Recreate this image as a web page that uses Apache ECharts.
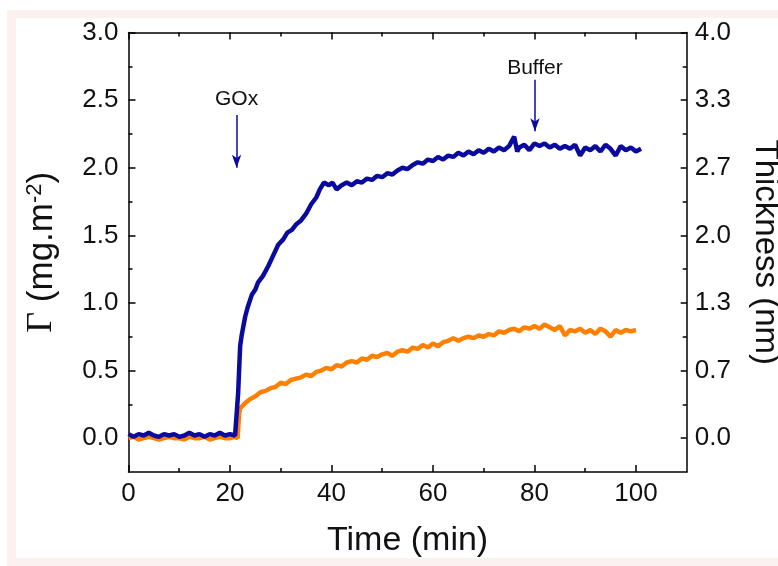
<!DOCTYPE html>
<html>
<head>
<meta charset="utf-8">
<script src="https://cdn.jsdelivr.net/npm/echarts@6/dist/echarts.min.js"></script>
<style>
html,body{margin:0;padding:0;background:#fff;overflow:hidden;}
#chart{width:778px;height:566px;}
</style>
</head>
<body>
<div id="chart"></div>
<script>
// ---- data ----
const blueTime = [0,1,2,3,4,5,6,7,8,9,10,11,12,13,14,15,16,17,18,19,20,21,21.3,21.6,22.0,22.3,23.0,23.5,24.3,25,25.5,26.5,27.5,28.5,29.5,30.5,31.3,32.2,33,34,35,36,37,37.7,38.5,39.5,40.2,41,42,43,44,45,46,47,48,49,50,51,52,53,54,55,56,57,58,59,60,61,62,63,64,65,66,67,68,69,70,71,72,73,74,75,76,76.6,77,78,79,80,81,82,83,84,85,86,87,88,89,90,91,92,93,94,95,96,97,98,99,100,101];
const gammaValues = [0.03,0.01,0.03,0.02,0.04,0.02,0.01,0.03,0.02,0.03,0.01,0.02,0.04,0.02,0.03,0.01,0.03,0.02,0.04,0.02,0.03,0.02,0.03,0.33,0.68,0.76,0.90,0.97,1.06,1.10,1.15,1.20,1.27,1.35,1.43,1.47,1.52,1.54,1.58,1.61,1.66,1.73,1.78,1.84,1.89,1.87,1.89,1.84,1.87,1.89,1.87,1.90,1.89,1.92,1.91,1.94,1.93,1.96,1.95,1.98,2.00,1.99,2.02,2.04,2.03,2.06,2.05,2.08,2.06,2.09,2.08,2.11,2.09,2.12,2.10,2.13,2.11,2.14,2.12,2.15,2.13,2.16,2.23,2.12,2.15,2.17,2.13,2.18,2.16,2.18,2.15,2.17,2.14,2.16,2.14,2.17,2.09,2.15,2.13,2.16,2.12,2.17,2.14,2.09,2.16,2.13,2.15,2.12,2.14];
const orangeTime = [0,1,2,3,4,5,6,7,8,9,10,11,12,13,14,15,16,17,18,19,20,21,21.5,21.8,22,23,24,25,26,27,28,29,30,31,32,33,34,35,36,37,38,39,40,41,42,43,44,45,46,47,48,49,50,51,52,53,54,55,56,57,58,59,60,61,62,63,64,65,66,67,68,69,70,71,72,73,74,75,76,77,78,79,80,81,82,83,84,85,86,87,88,89,90,91,92,93,94,95,96,97,98,99,100];
const orangeValues = [0.00,0.01,-0.01,0.00,0.01,0.00,-0.01,0.00,0.01,0.00,0.00,-0.01,0.01,0.00,0.00,0.01,-0.01,0.00,0.01,0.00,0.00,0.01,0.00,0.18,0.22,0.26,0.29,0.31,0.34,0.35,0.37,0.38,0.41,0.40,0.43,0.44,0.45,0.47,0.46,0.49,0.50,0.52,0.51,0.54,0.53,0.56,0.57,0.56,0.59,0.58,0.61,0.60,0.62,0.63,0.61,0.64,0.65,0.64,0.67,0.66,0.69,0.67,0.70,0.68,0.71,0.72,0.74,0.72,0.74,0.75,0.74,0.76,0.75,0.77,0.76,0.79,0.78,0.80,0.81,0.79,0.82,0.81,0.83,0.81,0.84,0.82,0.80,0.83,0.76,0.80,0.79,0.81,0.78,0.80,0.77,0.81,0.79,0.75,0.80,0.78,0.80,0.79,0.80];
const timeTicks = [0,20,40,60,80,100];
const timeMinorTicks = [10,30,50,70,90];
const gammaTicks = [0,0.5,1.0,1.5,2.0,2.5,3.0];
const gammaMinorTicks = [0.25,0.75,1.25,1.75,2.25,2.75];
const thicknessTicks = [0,2/3,4/3,2,8/3,10/3,4];
const thicknessMinorTicks = [1/3,1,5/3,7/3,3,11/3];
const annoLabels = ['GOx','Buffer'];
const annoTime = [21.3,80.1];
const annoTop = [2.39,2.65];
const annoTip = [2.0,2.27];

const FONT = 'Liberation Sans, Arial, Helvetica, sans-serif';
const SERIF = 'Liberation Serif, Times New Roman, serif';
const BLUE = '#0a0a9e';
const ORANGE = '#ff8000';
const INK = '#111';
const annoLabelGap = [5, 1];

const chart = echarts.init(document.getElementById('chart'), null, {renderer:'canvas'});

function tickStyle(vals, len){return {show:true,inside:true,length:len,customValues:vals,lineStyle:{color:'#000',width:1.5}};}
const frameLine = {show:true,onZero:false,lineStyle:{color:'#000',width:1.5}};
const noLine = {show:false,onZero:false};

const option = {
  animation:false,
  backgroundColor:'#fff',
  graphic:[
    {type:'rect',z:-10,silent:true,shape:{x:7,y:10,width:800,height:600},style:{fill:'#fcf1f1'}},
    {type:'rect',z:-9,silent:true,shape:{x:16,y:18,width:800,height:540},style:{fill:'#ffffff'}}
  ],
  grid:{left:128.5,right:91.3,top:32.5,bottom:94,containLabel:false,outerBoundsMode:'none'},
  xAxis:[
    {type:'value',position:'bottom',min:0,max:110,
     axisLine:frameLine,
     axisTick:tickStyle(timeTicks,7),
     axisLabel:{show:true,customValues:timeTicks,fontSize:26,fontFamily:FONT,color:INK,margin:9},
     splitLine:{show:false},
     name:'Time (min)',nameLocation:'middle',nameGap:52,
     nameTextStyle:{fontSize:34,fontFamily:FONT,color:INK}},
    {type:'value',position:'bottom',min:0,max:110,
     axisLine:noLine,axisTick:tickStyle(timeMinorTicks,4),
     axisLabel:{show:false},splitLine:{show:false}},
    {type:'value',position:'top',min:0,max:110,
     axisLine:frameLine,
     axisTick:tickStyle(timeTicks,7),
     axisLabel:{show:false},splitLine:{show:false}},
    {type:'value',position:'top',min:0,max:110,
     axisLine:noLine,axisTick:tickStyle(timeMinorTicks,4),
     axisLabel:{show:false},splitLine:{show:false}}
  ],
  yAxis:[
    {type:'value',position:'left',min:-0.25,max:3,
     axisLine:frameLine,
     axisTick:tickStyle(gammaTicks,7),
     axisLabel:{show:true,customValues:gammaTicks,fontSize:26,fontFamily:FONT,color:INK,margin:10,
       formatter:v=>Number(v).toFixed(1)},
     splitLine:{show:false},
     name:'{g|Γ} {a|(mg.m}{s|-2}{a|)}',nameLocation:'middle',nameGap:68,nameRotate:90,
     nameTextStyle:{color:INK,fontFamily:FONT,fontSize:35,
       rich:{g:{fontSize:36,fontFamily:SERIF,color:INK},
             a:{fontSize:35,fontFamily:FONT,color:INK},
             s:{fontSize:22,fontFamily:FONT,color:INK,padding:[0,0,15,0]}}}},
    {type:'value',position:'left',min:-0.25,max:3,
     axisLine:noLine,axisTick:tickStyle(gammaMinorTicks,4),
     axisLabel:{show:false},splitLine:{show:false}},
    {type:'value',position:'right',min:-1/3,max:4,
     axisLine:frameLine,
     axisTick:tickStyle(thicknessTicks,6),
     axisLabel:{show:true,customValues:thicknessTicks,fontSize:26,fontFamily:FONT,color:INK,margin:8,
       formatter:v=>Number(v).toFixed(1)},
     splitLine:{show:false},
     name:'Thickness (nm)',nameLocation:'middle',nameGap:62,nameRotate:-90,
     nameTextStyle:{fontSize:33,fontFamily:FONT,color:INK}},
    {type:'value',position:'right',min:-1/3,max:4,
     axisLine:noLine,axisTick:tickStyle(thicknessMinorTicks,4),
     axisLabel:{show:false},splitLine:{show:false}}
  ],
  series:[
    {name:'orange',type:'line',xAxisIndex:0,yAxisIndex:0,showSymbol:false,symbol:'none',
     lineStyle:{color:ORANGE,width:4.5},itemStyle:{color:ORANGE},
     data:orangeTime.map((t,i)=>[t,orangeValues[i]])},
    {name:'gamma',type:'line',xAxisIndex:0,yAxisIndex:0,showSymbol:false,symbol:'none',
     lineStyle:{color:BLUE,width:4.5},itemStyle:{color:BLUE},
     data:blueTime.map((t,i)=>[t,gammaValues[i]]),
     markLine:{silent:true,animation:false,
       lineStyle:{color:BLUE,width:1.5,type:'solid'},
       label:{show:true,position:'start',formatter:'{b}',fontSize:21,fontFamily:FONT,color:INK,distance:5},
       emphasis:{disabled:true},
       data:annoLabels.map((lab,i)=>[
         {name:lab,coord:[annoTime[i],annoTop[i]],symbol:'none',label:{distance:annoLabelGap[i]}},
         {coord:[annoTime[i],annoTip[i]],symbol:'arrow',symbolSize:[7,13]}
       ])}}
  ]
};
chart.setOption(option);
</script>
</body>
</html>
